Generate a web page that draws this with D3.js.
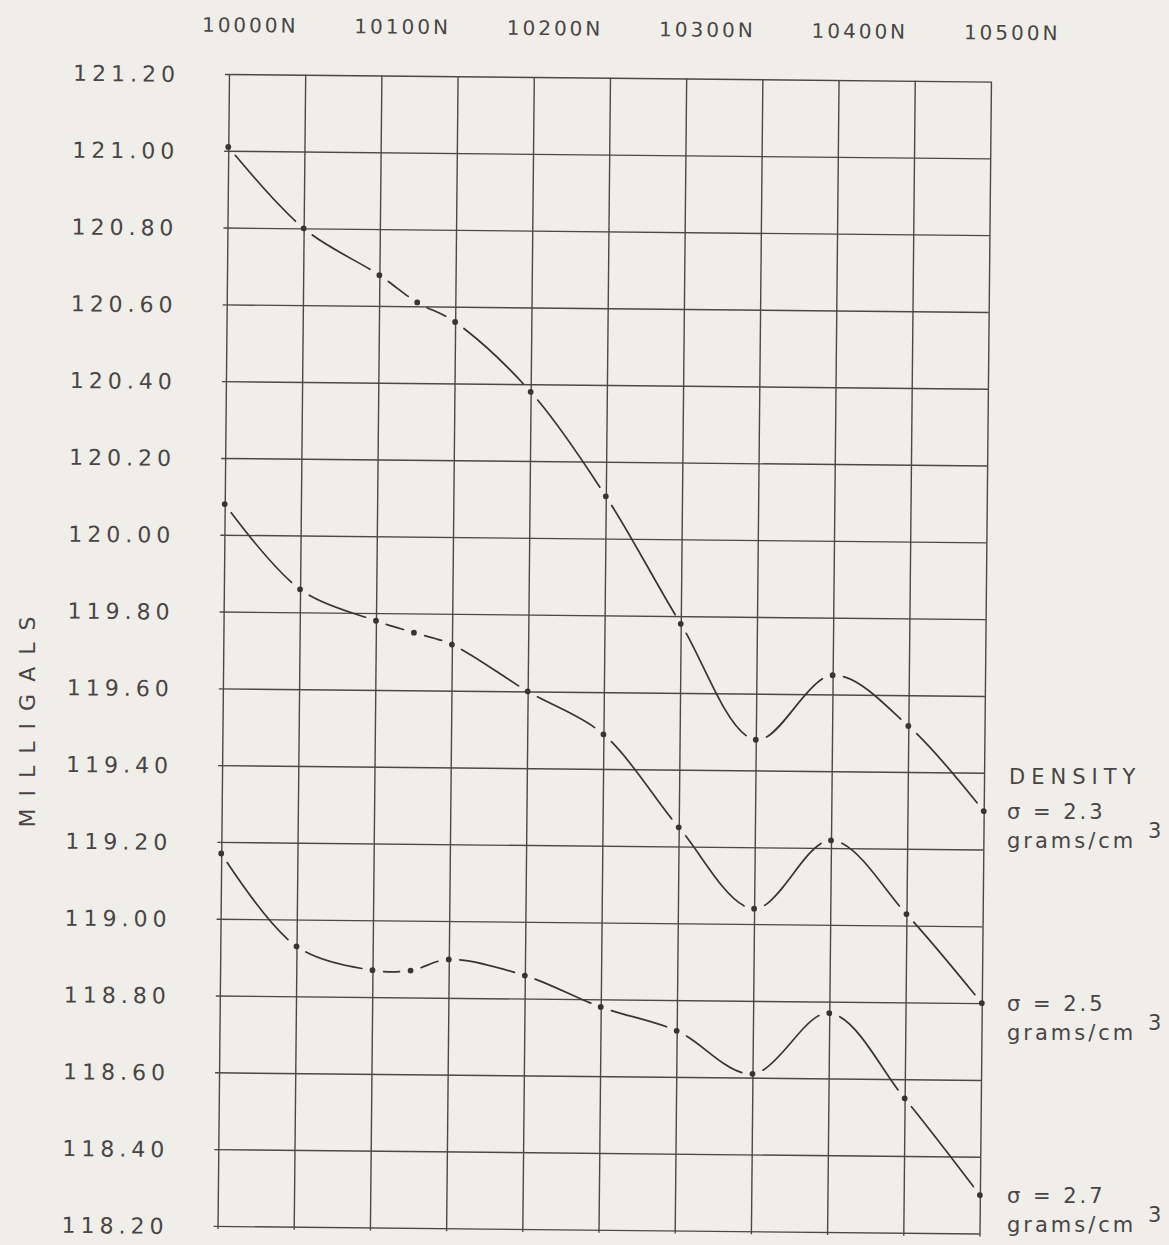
<!DOCTYPE html>
<html>
<head>
<meta charset="utf-8">
<script src="https://cdn.jsdelivr.net/npm/d3@7"></script>
<style>
  html, body { margin: 0; padding: 0; background: #efeee8; }
  svg { display: block; }
  text { font-family: "DejaVu Sans", "Liberation Sans", sans-serif; fill: #4a4444; }
</style>
</head>
<body>
<svg id="chart" width="1169" height="1245"></svg>
<script>
// Gravity profile along the traverse, Bouguer values for three assumed densities
const stations = [10000, 10050, 10100, 10125, 10150, 10200, 10250, 10300, 10350, 10400, 10450, 10500];
const sigma23 = [121.01, 120.80, 120.68, 120.61, 120.56, 120.38, 120.11, 119.78, 119.48, 119.65, 119.52, 119.30];
const sigma25 = [120.08, 119.86, 119.78, 119.75, 119.72, 119.60, 119.49, 119.25, 119.04, 119.22, 119.03, 118.80];
const sigma27 = [119.17, 118.93, 118.87, 118.87, 118.90, 118.86, 118.78, 118.72, 118.61, 118.77, 118.55, 118.30];

const gridStations = [10000, 10050, 10100, 10150, 10200, 10250, 10300, 10350, 10400, 10450, 10500];
const labelStations = [10000, 10100, 10200, 10300, 10400, 10500];
const gravityTicks = [118.20, 118.40, 118.60, 118.80, 119.00, 119.20, 119.40, 119.60,
                      119.80, 120.00, 120.20, 120.40, 120.60, 120.80, 121.00, 121.20];
const densityNames = ["σ = 2.3", "σ = 2.5", "σ = 2.7"];
const densityUnit = "grams/cm";
const unitPower = "3";
const yTitle = "MILLIGALS";
const legendTitle = "DENSITY";

const series = [sigma23, sigma25, sigma27].map((vals, i) => ({
  name: densityNames[i],
  points: stations.map((s, j) => ({ station: s, value: vals[j] }))
}));

// Plot frame
const W = 762, H = 1152;
const origin = [229, 74];
const angle = 0.57;                       // the drafted sheet sits slightly turned
const rad = angle * Math.PI / 180;
const ink = "#3a3333";

const x = d3.scaleLinear().domain([10000, 10500]).range([0, W]);
const y = d3.scaleLinear().domain([118.2, 121.2]).range([H, 0]);

const svg = d3.select("#chart");
svg.append("rect").attr("width", 1169).attr("height", 1245).attr("fill", "#efeee8");

const plot = svg.append("g")
  .attr("transform", `translate(${origin[0]},${origin[1]}) rotate(${angle})`);

// Grid: vertical station lines and horizontal gravity lines
const vGrid = plot.append("g")
  .attr("transform", `translate(0,${H})`)
  .call(d3.axisBottom(x).tickValues(gridStations).tickSize(-H - 3).tickSizeOuter(0).tickFormat(""));
vGrid.select(".domain").remove();
vGrid.selectAll(".tick line").attr("stroke", "#4d4747").attr("stroke-width", 1.4).attr("transform", "translate(0,3)");

const hGrid = plot.append("g")
  .call(d3.axisLeft(y).tickValues(gravityTicks).tickSize(-W - 4).tickSizeOuter(0).tickFormat(""));
hGrid.select(".domain").remove();
hGrid.selectAll(".tick line").attr("stroke", "#4d4747").attr("stroke-width", 1.4).attr("transform", "translate(-4,0)");

// Gravity tick labels, left-aligned in a column
const yAxis = plot.append("g")
  .call(d3.axisLeft(y).tickValues(gravityTicks).tickSize(0).tickFormat(d3.format(".2f")));
yAxis.select(".domain").remove();
yAxis.selectAll(".tick text")
  .attr("x", -156).attr("dy", "0.36em")
  .attr("text-anchor", "start")
  .style("font-family", '"DejaVu Sans", sans-serif')
  .style("font-size", "22px")
  .style("letter-spacing", "5px")
  .attr("fill", "#4a4444");

// Station labels along the top
const xAxis = plot.append("g")
  .call(d3.axisTop(x).tickValues(labelStations).tickSize(0).tickFormat(d => d + "N"));
xAxis.select(".domain").remove();
xAxis.selectAll(".tick text")
  .attr("y", -42).attr("dy", 0).attr("dx", -28)
  .attr("text-anchor", "start")
  .style("font-family", '"DejaVu Sans", sans-serif')
  .style("font-size", "20px")
  .style("letter-spacing", "3px")
  .attr("fill", "#4a4444");

// Profiles: smooth pen curves broken short of each observed station
const line = d3.line()
  .x(d => x(d.station))
  .y(d => y(d.value))
  .curve(d3.curveCatmullRom.alpha(0.5));

const gap = 11;
series.forEach(s => {
  const path = plot.append("path")
    .attr("d", line(s.points))
    .attr("fill", "none")
    .attr("stroke", ink)
    .attr("stroke-width", 1.7)
    .attr("stroke-linecap", "round");
  const node = path.node();
  const L = node.getTotalLength();
  const samples = [];
  for (let t = 0; t <= L; t += 0.5) {
    const p = node.getPointAtLength(t);
    samples.push([t, p.x, p.y]);
  }
  const along = s.points.map(d => {
    const px = x(d.station), py = y(d.value);
    let best = 0, bd = Infinity;
    for (const q of samples) {
      const dd = (q[1] - px) ** 2 + (q[2] - py) ** 2;
      if (dd < bd) { bd = dd; best = q[0]; }
    }
    return best;
  });
  const dash = [0];
  let cursor = 0;
  for (let i = 0; i < along.length - 1; i++) {
    const a = along[i] + gap, b = along[i + 1] - gap;
    if (b <= a) continue;
    dash.push(a - cursor, b - a);
    cursor = b;
  }
  dash.push(L + 20);
  path.attr("stroke-dasharray", dash.join(" "));

  plot.append("g").selectAll("circle")
    .data(s.points)
    .join("circle")
    .attr("cx", d => x(d.station))
    .attr("cy", d => y(d.value))
    .attr("r", 2.9)
    .attr("fill", ink);
});

// Axis title
svg.append("text")
  .attr("transform", "translate(35,716) rotate(-90)")
  .attr("text-anchor", "middle")
  .style("font-size", "22px")
  .style("letter-spacing", "12px")
  .text(yTitle);

// Density labels beside the end of each profile
function toPage(lx, ly) {
  return [origin[0] + lx * Math.cos(rad) - ly * Math.sin(rad),
          origin[1] + lx * Math.sin(rad) + ly * Math.cos(rad)];
}
const legendX = 1007;
series.forEach((s, i) => {
  const last = s.points[s.points.length - 1];
  const [, py] = toPage(x(last.station), y(last.value));
  const base = py + 8;
  if (i === 0) {
    svg.append("text").attr("x", legendX + 2).attr("y", base - 35)
      .style("font-size", "21px").style("letter-spacing", "6px").text(legendTitle);
  }
  svg.append("text").attr("x", legendX).attr("y", base)
    .style("font-size", "21px").style("letter-spacing", "3px").text(s.name);
  svg.append("text").attr("x", legendX).attr("y", base + 29)
    .style("font-size", "21px").style("letter-spacing", "3px").text(densityUnit);
  svg.append("text").attr("x", 1148).attr("y", base + 19)
    .style("font-size", "21px").text(unitPower);
});
</script>
</body>
</html>
